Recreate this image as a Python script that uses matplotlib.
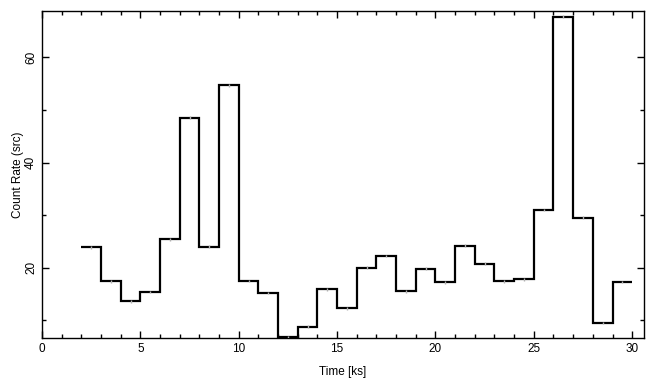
import matplotlib
matplotlib.use("Agg")
import matplotlib.pyplot as plt
import numpy as np
from matplotlib.ticker import MultipleLocator

plt.rcParams["font.family"] = ["Liberation Sans", "DejaVu Sans"]

# bin edges (ks) and count rates
edges = [2, 3, 4, 5, 6, 7, 8, 9, 10, 11, 12, 13, 14, 15, 16, 17, 18, 19, 20,
         21, 22, 23, 24, 25, 26, 27, 28, 29, 30]
rates = [23.9, 17.4, 13.6, 15.4, 25.4, 48.5, 24.0, 54.7, 17.5, 15.2,
         6.8, 8.8, 15.9, 12.3, 20.0, 22.2, 15.5, 19.8, 17.2, 24.2,
         20.8, 17.4, 17.8, 31.0, 67.7, 29.5, 9.5, 17.3]
rate_err = [0.25] * len(rates)

edges = np.array(edges, dtype=float)
rates = np.array(rates)
centers = 0.5 * (edges[:-1] + edges[1:])

fig = plt.figure(figsize=(6.55, 3.85), dpi=100)
ax = fig.add_axes([0.0641, 0.1213, 0.9191, 0.8509])

ax.stairs(rates, edges, color="black", linewidth=1.6, baseline=None, zorder=2)
ax.errorbar(centers, rates, yerr=rate_err, fmt="none", ecolor="#b0b0b0",
            elinewidth=1.0, capsize=0, zorder=3)

ax.set_xlim(0, 30.6)
ax.set_ylim(6.58, 68.86)
ax.xaxis.set_major_locator(MultipleLocator(5))
ax.xaxis.set_minor_locator(MultipleLocator(1))
ax.yaxis.set_major_locator(MultipleLocator(20))
ax.yaxis.set_minor_locator(MultipleLocator(10))
ax.tick_params(which="both", direction="in", top=True, right=True,
               labelsize=8.5, width=1.0)
ax.tick_params(which="major", length=5)
ax.tick_params(which="minor", length=3)
for lab in ax.get_yticklabels():
    lab.set_rotation(90)
    lab.set_va("center")
for sp in ax.spines.values():
    sp.set_linewidth(1.0)

ax.set_xlabel("Time [ks]", fontsize=8.5, labelpad=8)
ax.set_ylabel("Count Rate (src)", fontsize=8.5, labelpad=1)

fig.savefig("out.png", dpi=100)
